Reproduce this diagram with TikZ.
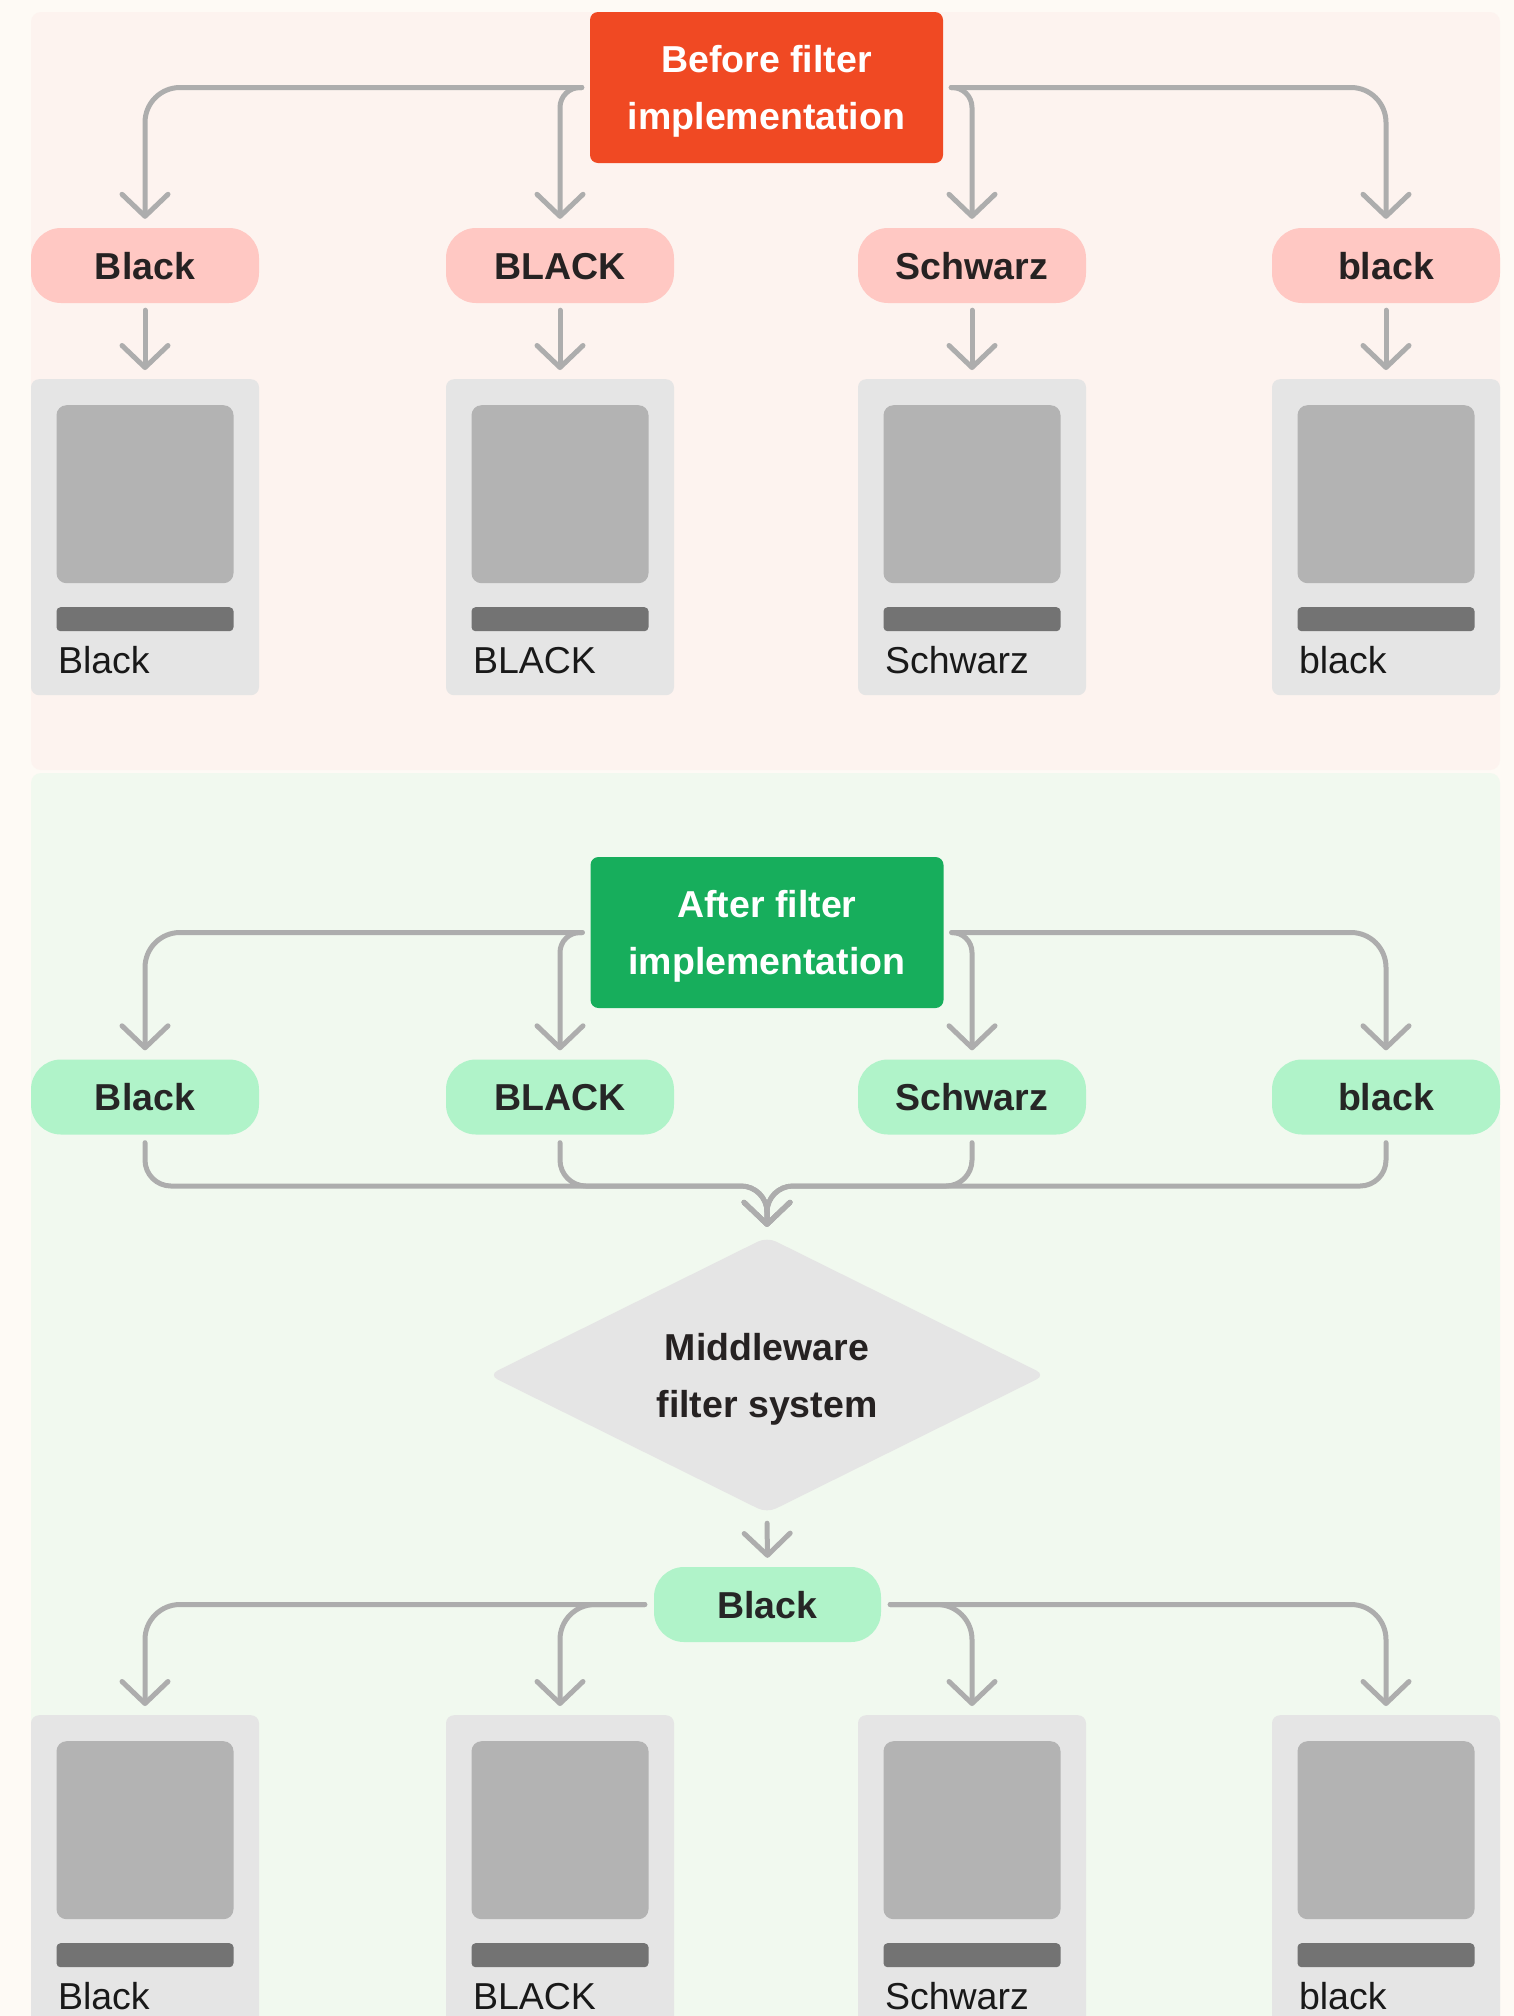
\documentclass[tikz,border=0pt]{standalone}
\usepackage{fontspec}
\setmainfont{Liberation Sans}
\usetikzlibrary{arrows.meta,shapes.geometric,calc}
\definecolor{bgC}{HTML}{FEFAF5}
\definecolor{pinkPanel}{HTML}{FDF3EF}
\definecolor{greenPanel}{HTML}{F1F9EF}
\definecolor{orangeC}{HTML}{F04923}
\definecolor{pinkPill}{HTML}{FFC8C3}
\definecolor{greenBox}{HTML}{17AE5C}
\definecolor{greenPill}{HTML}{B0F3C9}
\definecolor{cardC}{HTML}{E5E5E5}
\definecolor{imgC}{HTML}{B3B3B3}
\definecolor{barC}{HTML}{737373}
\definecolor{lineC}{HTML}{ADADAD}
\definecolor{txtC}{HTML}{262222}
\newcommand\labfont{\fontsize{37.5}{57}\selectfont\bfseries}
\newcommand\cardfont{\fontsize{37.5}{45}\selectfont}
\newcommand\drawcard[4]{%
  \node[cardbg, anchor=north] (#1) at (#2,#3) {};
  \node[imgbox, anchor=north] (#1img) at ([yshift=-26pt]#1.north) {};
  \node[barbox, anchor=north] (#1bar) at ([yshift=-228pt]#1.north) {};
  \node[cardtext, anchor=base west] (#1txt) at ([xshift=27pt,yshift=-294pt]#1.north west) {#4};
}
\tikzset{
  conn/.style={draw=lineC, line width=5pt, line cap=round, shorten >=9pt,
    -{Straight Barb[length=22pt,width=46pt,round]}},
  pinkpill/.style={fill=pinkPill, rounded corners=30pt, minimum width=228pt, minimum height=75pt,
    inner sep=0pt, font=\labfont, text=txtC, text height=27pt, text depth=0pt},
  greenpill/.style={pinkpill, fill=greenPill, text=black!85},
  headbox/.style={rounded corners=8pt, minimum width=353pt, minimum height=151pt, inner sep=0pt,
    font=\labfont, text=white, align=center, text depth=0pt},
  cardbg/.style={fill=cardC, rounded corners=8pt, minimum width=228pt, minimum height=316pt, inner sep=0pt},
  imgbox/.style={fill=imgC, rounded corners=10pt, minimum width=177pt, minimum height=178pt, inner sep=0pt},
  barbox/.style={fill=barC, rounded corners=4pt, minimum width=177pt, minimum height=24pt, inner sep=0pt},
  cardtext/.style={font=\cardfont, text=black!90, inner sep=0pt},
  panel/.style={rounded corners=10pt}
}
\begin{document}
\begin{tikzpicture}[x=1pt,y=-1pt]
\clip (0,0) rectangle (1514,2016);
\fill[bgC] (0,0) rectangle (1514,2016);
% panels
\fill[pinkPanel, panel] (31,12) rectangle (1500,770);
\fill[greenPanel, panel] (31,773) rectangle (1500,2040);

% ===== Before =====
\node[headbox, fill=orangeC] (before) at (766.5,87.5) {Before filter\\implementation};
\node[pinkpill] (p1) at (145,265.5) {Black};
\node[pinkpill] (p2) at (560,265.5) {BLACK};
\node[pinkpill] (p3) at (972,265.5) {Schwarz};
\node[pinkpill] (p4) at (1386,265.5) {black};
\drawcard{c1}{145}{379}{Black}
\drawcard{c2}{560}{379}{BLACK}
\drawcard{c3}{972}{379}{Schwarz}
\drawcard{c4}{1386}{379}{black}

\draw[conn, rounded corners=35pt] ([xshift=-8pt]before.west) -| (p1.north);
\draw[conn, rounded corners=20pt] ([xshift=-8pt]before.west) -| (p2.north);
\draw[conn, rounded corners=20pt] ([xshift=8pt]before.east) -| (p3.north);
\draw[conn, rounded corners=35pt] ([xshift=8pt]before.east) -| (p4.north);
\foreach \i in {1,2,3,4}{
  \draw[conn, shorten <=7pt] (p\i.south) -- (c\i.north);
}

% ===== After =====
\node[headbox, fill=greenBox] (after) at (767,932.5) {After filter\\implementation};
\node[greenpill] (g1) at (145,1097) {Black};
\node[greenpill] (g2) at (560,1097) {BLACK};
\node[greenpill] (g3) at (972,1097) {Schwarz};
\node[greenpill] (g4) at (1386,1097) {black};

\draw[conn, rounded corners=35pt] ([xshift=-8pt]after.west) -| (g1.north);
\draw[conn, rounded corners=20pt] ([xshift=-8pt]after.west) -| (g2.north);
\draw[conn, rounded corners=20pt] ([xshift=8pt]after.east) -| (g3.north);
\draw[conn, rounded corners=35pt] ([xshift=8pt]after.east) -| (g4.north);

\node[diamond, fill=cardC, rounded corners=10pt, minimum width=557pt, minimum height=276pt,
  aspect=2.02, inner sep=0pt, font=\labfont, text=txtC, align=center, text depth=0pt] (dia) at (767,1375)
  {Middleware\\filter system};
\coordinate (merge) at (767,1186);
\foreach \i in {1,2,3,4}{
  \draw[conn, rounded corners=26pt, shorten <=8pt, shorten >=10pt] (g\i.south) |- (merge) -- (dia.north);
}

\node[greenpill, minimum width=227pt] (bk) at (767.5,1604.5) {Black};
\draw[conn, shorten <=10pt] (dia.south) -- (bk.north);

\drawcard{d1}{145}{1715}{Black}
\drawcard{d2}{560}{1715}{BLACK}
\drawcard{d3}{972}{1715}{Schwarz}
\drawcard{d4}{1386}{1715}{black}

\draw[conn, rounded corners=35pt] ([xshift=-9pt]bk.west) -| (d1.north);
\draw[conn, rounded corners=35pt] ([xshift=-9pt]bk.west) -| (d2.north);
\draw[conn, rounded corners=35pt] ([xshift=9pt]bk.east) -| (d3.north);
\draw[conn, rounded corners=35pt] ([xshift=9pt]bk.east) -| (d4.north);
\end{tikzpicture}
\end{document}
